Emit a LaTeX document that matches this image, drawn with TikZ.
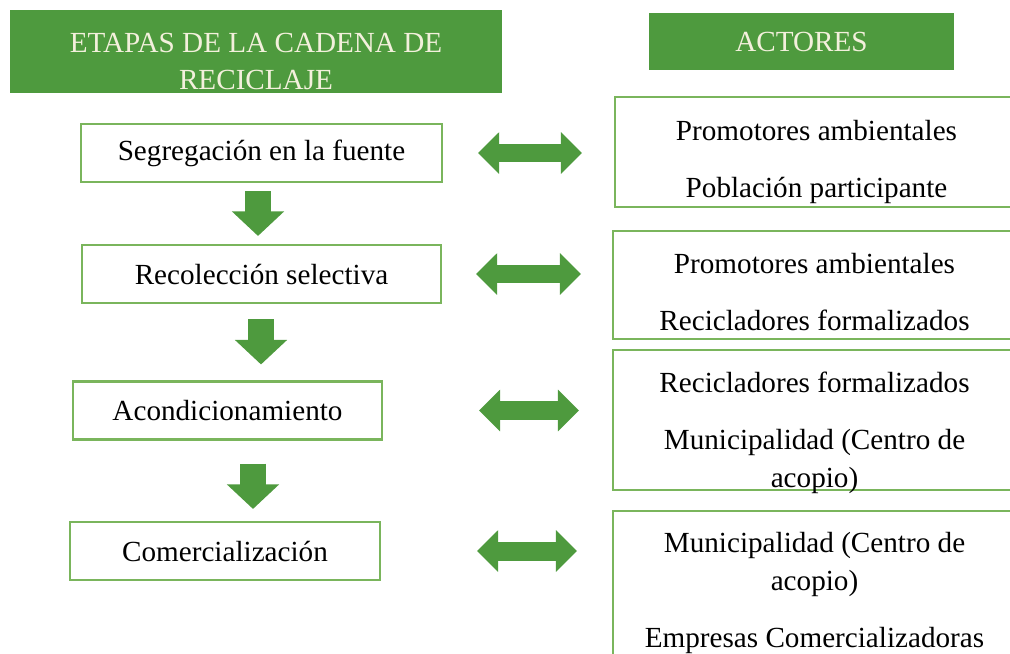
\documentclass[tikz,border=0pt]{standalone}
\usepackage{fontspec}
\setmainfont{Liberation Serif}
\usetikzlibrary{arrows.meta}

\definecolor{verde}{HTML}{4E9A3E}
\definecolor{verdeborde}{HTML}{7AB55C}
\definecolor{crema}{HTML}{F3F0DC}

\begin{document}
\begin{tikzpicture}[x=0.02cm, y=-0.02cm,
    every node/.style={font=\fontsize{16.6}{21.5}\selectfont},
    cabecera/.style={fill=verde, text=crema, inner sep=0pt},
    textocab/.style={text=crema, align=center, inner sep=0pt},
    etapa/.style={draw=verdeborde, line width=1.2pt, inner sep=0pt, minimum height=1.16cm},
    actor/.style={draw=verdeborde, line width=1.2pt, inner sep=0pt, minimum width=8.06cm},
    textoactor/.style={align=center, inner sep=0pt},
    flechabaja/.style={verde, line width=15.3pt, -{Triangle[length=14pt, width=29pt]}},
    flechadoble/.style={verde, line width=10.8pt, {Triangle[length=12pt, width=23pt]}-{Triangle[length=12pt, width=23pt]}}]
                % Marco
                \useasboundingbox (0,0) rectangle (1010,653);
                \clip (0,0) rectangle (1010,653);

                % Cabeceras
                \node[cabecera, minimum width=9.84cm, minimum height=1.66cm,
                      label={[textocab, yshift=-0.2cm]center:{ETAPAS DE LA CADENA DE\\RECICLAJE}}] (etapas) at (256,51.5) {};
                \node[cabecera, minimum width=6.1cm, minimum height=1.14cm] (actores) at (801.5,41.5) {\textcolor{crema}{ACTORES}};

                % Etapas
                \node[etapa, minimum width=7.22cm] (segregacion) at (261.5,153) {Segregación en la fuente};
                \node[etapa, minimum width=7.18cm] (recoleccion) at (261.5,274) {Recolección selectiva};
                \node[etapa, minimum width=6.18cm] (acondicionamiento) at (227.5,410.5) {Acondicionamiento};
                \node[etapa, minimum width=6.2cm] (comercializacion) at (225,551) {Comercialización};

                % Actores
                \node[actor, minimum height=2.2cm,
                      label={[textoactor, yshift=-0.2cm]center:{Promotores ambientales\\[10.8pt]Población participante}}] (actor1) at (816.5,152) {};
                \node[actor, minimum height=2.16cm,
                      label={[textoactor, yshift=-0.14cm]center:{Promotores ambientales\\[10.8pt]Recicladores formalizados}}] (actor2) at (814.5,285) {};
                \node[actor, minimum height=2.8cm,
                      label={[textoactor, yshift=-0.26cm]center:{Recicladores formalizados\\[10.8pt]Municipalidad (Centro de\\acopio)}}] (actor3) at (814.5,420) {};
                \node[actor, minimum height=3cm,
                      label={[textoactor, yshift=-0.14cm]center:{Municipalidad (Centro de\\acopio)\\[10.8pt]Empresas Comercializadoras}}] (actor4) at (814.5,586) {};

                % Flechas entre etapas
                \draw[flechabaja, shorten <=0.16cm, shorten >=0.16cm] (segregacion.south -| 258,0) -- (recoleccion.north -| 258,0);
                \draw[flechabaja, shorten <=0.3cm, shorten >=0.32cm] (recoleccion.south -| 261,0) -- (acondicionamiento.north -| 261,0);
                \draw[flechabaja, shorten <=0.46cm, shorten >=0.24cm] (acondicionamiento.south -| 253,0) -- (comercializacion.north -| 253,0);

                % Flechas hacia los actores
                \draw[flechadoble, shorten <=0.7cm, shorten >=0.64cm] (segregacion.east) -- (actor1.west |- segregacion.east);
                \draw[flechadoble, shorten <=0.68cm, shorten >=0.62cm] (recoleccion.east) -- (actor2.west |- recoleccion.east);
                \draw[flechadoble, shorten <=1.92cm, shorten >=0.66cm] (acondicionamiento.east) -- (actor3.west |- acondicionamiento.east);
                \draw[flechadoble, shorten <=1.92cm, shorten >=0.7cm] (comercializacion.east) -- (actor4.west |- comercializacion.east);
            \end{tikzpicture}
\end{document}
